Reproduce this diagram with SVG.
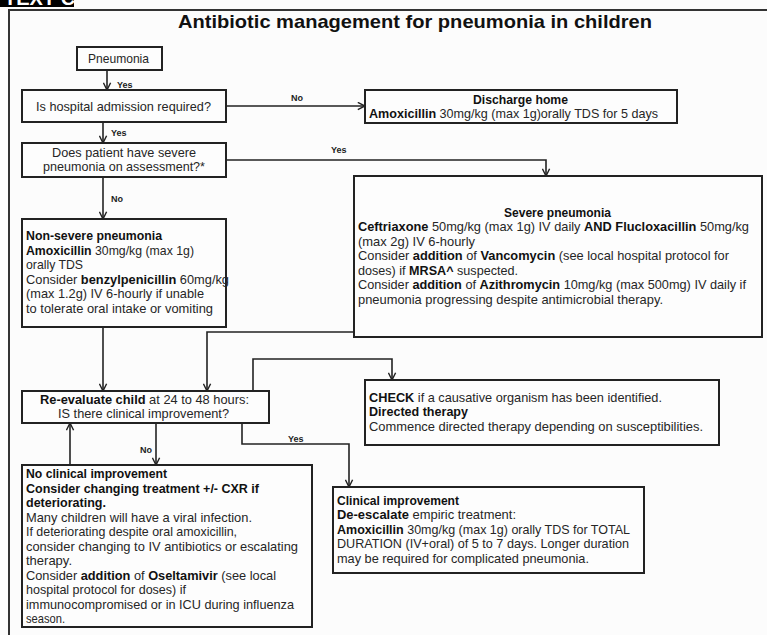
<svg xmlns="http://www.w3.org/2000/svg" width="767" height="635" viewBox="0 0 767 635">
<style>
  text { font-family: "Liberation Sans", Arial, sans-serif; fill: #262626; }
  .t { font-size: 13px; }
  .b { font-weight: bold; fill: #111; }
  .lbl { font-size: 9px; font-weight: bold; fill: #222; }
  .box { fill: #fdfdfd; stroke: #222; stroke-width: 2; }
  .con { fill: none; stroke: #222; stroke-width: 1.6; }
</style>
<defs>
  <marker id="arr" viewBox="0 0 10 10" refX="9" refY="5" markerWidth="9" markerHeight="9" markerUnits="userSpaceOnUse" orient="auto">
    <path d="M1,1 L9,5 L1,9" fill="none" stroke="#222" stroke-width="1.6"/>
  </marker>
</defs>
<rect x="0" y="0" width="767" height="635" fill="#fcfcfc"/>
<g id="tag">
  <rect x="0" y="-20" width="74" height="27" fill="#000"/>
  <text x="4" y="5" style="font-size:20px;font-weight:bold;fill:#fff">TEXT C</text>
</g>
<rect x="9" y="10" width="800" height="700" fill="none" stroke="#333" stroke-width="2"/>
<text x="415" y="28" text-anchor="middle" class="b" style="font-size:19px" textLength="474" lengthAdjust="spacingAndGlyphs">Antibiotic management for pneumonia in children</text>

<g id="connectors">
  <path class="con" d="M107,70 V90" marker-end="url(#arr)"/>
  <path class="con" d="M226,106 H365" marker-end="url(#arr)"/>
  <path class="con" d="M103,122 V143" marker-end="url(#arr)"/>
  <path class="con" d="M226,160 H546 V176" marker-end="url(#arr)"/>
  <path class="con" d="M103,177 V219" marker-end="url(#arr)"/>
  <path class="con" d="M103,327 V391" marker-end="url(#arr)"/>
  <path class="con" d="M354,332 H207 V391" marker-end="url(#arr)"/>
  <path class="con" d="M253,391 V359 H392 V380" marker-end="url(#arr)"/>
  <path class="con" d="M242,423 V444 H349 V487" marker-end="url(#arr)"/>
  <path class="con" d="M156,423 V465" marker-end="url(#arr)"/>
  <path class="con" d="M70,465 V423" marker-end="url(#arr)"/>
  <text class="lbl" x="117" y="88">Yes</text>
  <text class="lbl" x="291" y="101">No</text>
  <text class="lbl" x="111" y="136">Yes</text>
  <text class="lbl" x="331" y="153">Yes</text>
  <text class="lbl" x="111" y="202">No</text>
  <text class="lbl" x="288" y="442">Yes</text>
  <text class="lbl" x="140" y="453">No</text>
</g>

<g id="pneumonia">
  <rect class="box" x="77" y="47" width="85" height="23"/>
  <text class="t" x="88" y="63" textLength="61" lengthAdjust="spacingAndGlyphs">Pneumonia</text>
</g>

<g id="admission">
  <rect class="box" x="22" y="90" width="204" height="32"/>
  <text class="t" x="36" y="111" textLength="175" lengthAdjust="spacingAndGlyphs">Is hospital admission required?</text>
</g>

<g id="discharge">
  <rect class="box" x="365" y="90" width="312" height="33"/>
  <text class="t b" x="473" y="103.5" textLength="95" lengthAdjust="spacingAndGlyphs">Discharge home</text>
  <text class="t" x="369" y="117.5" textLength="289" lengthAdjust="spacingAndGlyphs"><tspan class="b">Amoxicillin</tspan> 30mg/kg (max 1g)orally TDS for 5 days</text>
</g>

<g id="severe-q">
  <rect class="box" x="22" y="143" width="204" height="34"/>
  <text class="t" x="52" y="157" textLength="144" lengthAdjust="spacingAndGlyphs">Does patient have severe</text>
  <text class="t" x="43" y="171" textLength="162" lengthAdjust="spacingAndGlyphs">pneumonia on assessment?*</text>
</g>

<g id="severe">
  <rect class="box" x="354" y="176" width="408" height="161"/>
  <text class="t b" x="504" y="216.5" textLength="107" lengthAdjust="spacingAndGlyphs">Severe pneumonia</text>
  <text class="t" x="358" y="231" textLength="391" lengthAdjust="spacingAndGlyphs"><tspan class="b">Ceftriaxone</tspan> 50mg/kg (max 1g) IV daily  <tspan class="b">AND Flucloxacillin</tspan> 50mg/kg</text>
  <text class="t" x="358" y="245.5" textLength="117" lengthAdjust="spacingAndGlyphs">(max 2g) IV 6-hourly</text>
  <text class="t" x="358" y="260" textLength="371" lengthAdjust="spacingAndGlyphs">Consider <tspan class="b">addition</tspan> of <tspan class="b">Vancomycin</tspan> (see local hospital protocol for</text>
  <text class="t" x="358" y="274.5" textLength="160" lengthAdjust="spacingAndGlyphs">doses) if <tspan class="b">MRSA^</tspan> suspected.</text>
  <text class="t" x="358" y="289" textLength="388" lengthAdjust="spacingAndGlyphs">Consider <tspan class="b">addition</tspan> of <tspan class="b">Azithromycin</tspan> 10mg/kg (max 500mg) IV daily if</text>
  <text class="t" x="358" y="303.5" textLength="305" lengthAdjust="spacingAndGlyphs">pneumonia progressing despite antimicrobial therapy.</text>
</g>

<g id="non-severe">
  <rect class="box" x="22" y="219" width="204" height="108"/>
  <text class="t b" x="26" y="240" textLength="136" lengthAdjust="spacingAndGlyphs">Non-severe pneumonia</text>
  <text class="t" x="26" y="254.5" textLength="168" lengthAdjust="spacingAndGlyphs"><tspan class="b">Amoxicillin</tspan> 30mg/kg (max 1g)</text>
  <text class="t" x="26" y="269" textLength="57" lengthAdjust="spacingAndGlyphs">orally TDS</text>
  <text class="t" x="26" y="283.5" textLength="203" lengthAdjust="spacingAndGlyphs">Consider <tspan class="b">benzylpenicillin</tspan> 60mg/kg</text>
  <text class="t" x="26" y="298" textLength="178" lengthAdjust="spacingAndGlyphs">(max 1.2g) IV 6-hourly if unable</text>
  <text class="t" x="26" y="312.5" textLength="187" lengthAdjust="spacingAndGlyphs">to tolerate oral intake or vomiting</text>
</g>

<g id="reevaluate">
  <rect class="box" x="22" y="391" width="247" height="32"/>
  <text class="t" x="40" y="404" textLength="209" lengthAdjust="spacingAndGlyphs"><tspan class="b">Re-evaluate child</tspan> at 24 to 48 hours:</text>
  <text class="t" x="58" y="418" textLength="171" lengthAdjust="spacingAndGlyphs">IS there clinical improvement?</text>
</g>

<g id="check">
  <rect class="box" x="365" y="380" width="354" height="65"/>
  <text class="t" x="369" y="402" textLength="293" lengthAdjust="spacingAndGlyphs"><tspan class="b">CHECK</tspan> if a causative organism has been identified.</text>
  <text class="t b" x="369" y="416" textLength="99" lengthAdjust="spacingAndGlyphs">Directed therapy</text>
  <text class="t" x="369" y="430.5" textLength="334" lengthAdjust="spacingAndGlyphs">Commence directed therapy depending on susceptibilities.</text>
</g>

<g id="improvement">
  <rect class="box" x="333" y="487" width="311" height="86"/>
  <text class="t b" x="337" y="504.5" textLength="122" lengthAdjust="spacingAndGlyphs">Clinical improvement</text>
  <text class="t" x="337" y="519" textLength="179" lengthAdjust="spacingAndGlyphs"><tspan class="b">De-escalate</tspan> empiric treatment:</text>
  <text class="t" x="337" y="533.5" textLength="293" lengthAdjust="spacingAndGlyphs"><tspan class="b">Amoxicillin</tspan> 30mg/kg (max 1g) orally TDS for TOTAL</text>
  <text class="t" x="337" y="548" textLength="292" lengthAdjust="spacingAndGlyphs">DURATION (IV+oral) of 5 to 7 days. Longer duration</text>
  <text class="t" x="337" y="562.5" textLength="252" lengthAdjust="spacingAndGlyphs">may be required for complicated pneumonia.</text>
</g>

<g id="no-improvement">
  <rect class="box" x="22" y="465" width="290" height="162"/>
  <text class="t b" x="26" y="478" textLength="141" lengthAdjust="spacingAndGlyphs">No clinical improvement</text>
  <text class="t b" x="26" y="492.5" textLength="233" lengthAdjust="spacingAndGlyphs">Consider changing treatment +/- CXR if</text>
  <text class="t b" x="26" y="507" textLength="80" lengthAdjust="spacingAndGlyphs">deteriorating.</text>
  <text class="t" x="26" y="521.5" textLength="226" lengthAdjust="spacingAndGlyphs">Many children will have a viral infection.</text>
  <text class="t" x="26" y="536" textLength="211" lengthAdjust="spacingAndGlyphs">If deteriorating despite oral amoxicillin,</text>
  <text class="t" x="26" y="550.5" textLength="272" lengthAdjust="spacingAndGlyphs">consider changing to IV antibiotics or escalating</text>
  <text class="t" x="26" y="565" textLength="46" lengthAdjust="spacingAndGlyphs">therapy.</text>
  <text class="t" x="26" y="579.5" textLength="250" lengthAdjust="spacingAndGlyphs">Consider <tspan class="b">addition</tspan> of <tspan class="b">Oseltamivir</tspan> (see local</text>
  <text class="t" x="26" y="594" textLength="160" lengthAdjust="spacingAndGlyphs">hospital protocol for doses) if</text>
  <text class="t" x="26" y="608.5" textLength="268" lengthAdjust="spacingAndGlyphs">immunocompromised or in ICU during influenza</text>
  <text class="t" x="26" y="623" textLength="39" lengthAdjust="spacingAndGlyphs">season.</text>
</g>
</svg>
